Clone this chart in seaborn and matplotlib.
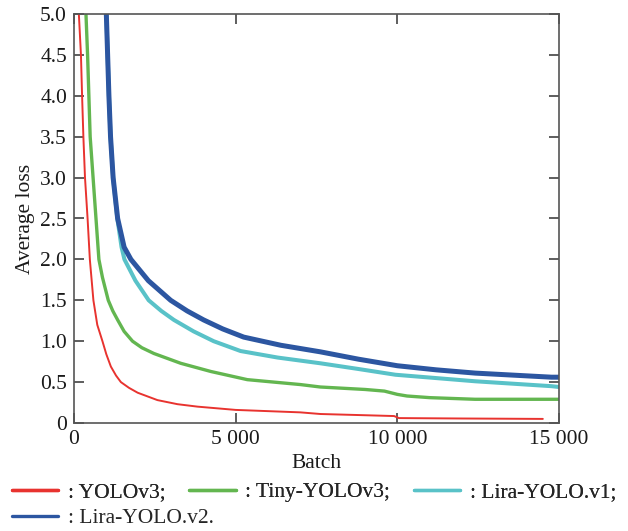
import matplotlib
matplotlib.use("Agg")
import matplotlib.pyplot as plt
from matplotlib.lines import Line2D
import seaborn as sns

# ---- data ----
yolov3_batch = [150, 215, 250, 290, 340, 420, 490, 600, 720, 880, 1000, 1140, 1300, 1450,
                1700, 1970, 2580, 3200, 3820, 5000, 6000, 7000, 7620, 9000, 9900, 10050,
                12000, 14500]
yolov3_loss = [5.0, 4.5, 4.0, 3.5, 3.0, 2.5, 2.0, 1.5, 1.2, 1.0, 0.84, 0.69, 0.58, 0.5,
               0.43, 0.37, 0.28, 0.23, 0.2, 0.16, 0.145, 0.13, 0.11, 0.095, 0.085, 0.06,
               0.055, 0.05]

tiny_batch = [370, 420, 460, 500, 590, 680, 770, 880, 1060, 1200, 1350, 1550, 1810, 2100,
              2470, 3300, 4230, 5360, 7000, 7620, 9000, 9600, 10000, 10300, 11000, 12400, 15000]
tiny_loss = [5.0, 4.5, 4.0, 3.5, 3.0, 2.5, 2.0, 1.78, 1.5, 1.37, 1.26, 1.12, 1.0, 0.92,
             0.85, 0.73, 0.63, 0.53, 0.47, 0.44, 0.41, 0.39, 0.35, 0.33, 0.31, 0.29, 0.29]

lira1_batch = [1000, 1040, 1080, 1130, 1210, 1340, 1470, 1560, 1900, 2310, 2700, 3090,
               3700, 4320, 5150, 6300, 7620, 8800, 9940, 12410, 14770, 15000]
lira1_loss = [5.0, 4.5, 4.0, 3.5, 3.0, 2.5, 2.15, 2.0, 1.74, 1.5, 1.37, 1.26,
              1.12, 1.0, 0.88, 0.8, 0.73, 0.66, 0.59, 0.51, 0.45, 0.44]

lira2_batch = [1000, 1040, 1080, 1130, 1210, 1350, 1550, 1760, 2300, 2990, 3500, 4010,
               4600, 5250, 6400, 7620, 8800, 10000, 11200, 12410, 14770, 15000]
lira2_loss = [5.0, 4.5, 4.0, 3.5, 3.0, 2.5, 2.15, 2.0, 1.74, 1.5, 1.37, 1.26,
              1.15, 1.05, 0.95, 0.87, 0.78, 0.70, 0.65, 0.61, 0.56, 0.56]

series_names = [": YOLOv3;", ": Tiny-YOLOv3;", ": Lira-YOLO.v1;", ": Lira-YOLO.v2."]
x_ticks = [0, 5000, 10000, 15000]
x_tick_labels = ["0", "5 000", "10 000", "15 000"]
y_ticks = [0, 0.5, 1.0, 1.5, 2.0, 2.5, 3.0, 3.5, 4.0, 4.5, 5.0]
y_tick_labels = ["0", "0.5", "1.0", "1.5", "2.0", "2.5", "3.0", "3.5", "4.0", "4.5", "5.0"]

# ---- style ----
sns.set_style("ticks")
plt.rcParams["font.family"] = ["Liberation Serif", "DejaVu Serif"]

colors = ["#e8332f", "#63b650", "#59c2c8", "#2c56a1"]
widths = [1.4, 2.4, 2.9, 3.6]
FS = 15.5

fig = plt.figure(figsize=(6.28, 5.31), dpi=100)
ax = fig.add_axes([74 / 628, 1 - 423 / 531, (559 - 74) / 628, (423 - 14) / 531])

data = [(yolov3_batch, yolov3_loss), (tiny_batch, tiny_loss),
        (lira1_batch, lira1_loss), (lira2_batch, lira2_loss)]
for (xb, yl), c, w in zip(data, colors, widths):
    sns.lineplot(x=xb, y=yl, ax=ax, color=c, linewidth=w, legend=False)

ax.set_xlim(0, 15000)
ax.set_ylim(0, 5.0)
ax.set_xticks(x_ticks)
ax.set_xticklabels(x_tick_labels)
ax.set_yticks(y_ticks)
ax.set_yticklabels(y_tick_labels)
ax.tick_params(direction="in", top=True, right=True, length=7, width=1.1,
               color="#333333", labelsize=FS, labelcolor="#1a1a1a", pad=5)
for s in ax.spines.values():
    s.set_linewidth(1.2)
    s.set_color("#555555")

ax.set_xlabel("Batch", fontsize=FS, labelpad=4, color="#1a1a1a")
ax.set_ylabel("Average loss", fontsize=FS, labelpad=4, color="#1a1a1a")

handles = [Line2D([0], [0], color=c, linewidth=2.4) for c in colors]
common = dict(frameon=False, fontsize=FS, handlelength=2.15, handletextpad=0.45,
              borderaxespad=0, borderpad=0, loc="center left")
leg1 = fig.legend(handles[:3], series_names[:3], ncol=3, columnspacing=1.1,
                  bbox_to_anchor=(12 / 628, 1 - 492 / 531), **common)
leg2 = fig.legend(handles[3:], series_names[3:], ncol=1,
                  bbox_to_anchor=(12 / 628, 1 - 518 / 531), **common)
fig.add_artist(leg1)

fig.savefig("out.png", dpi=100)
